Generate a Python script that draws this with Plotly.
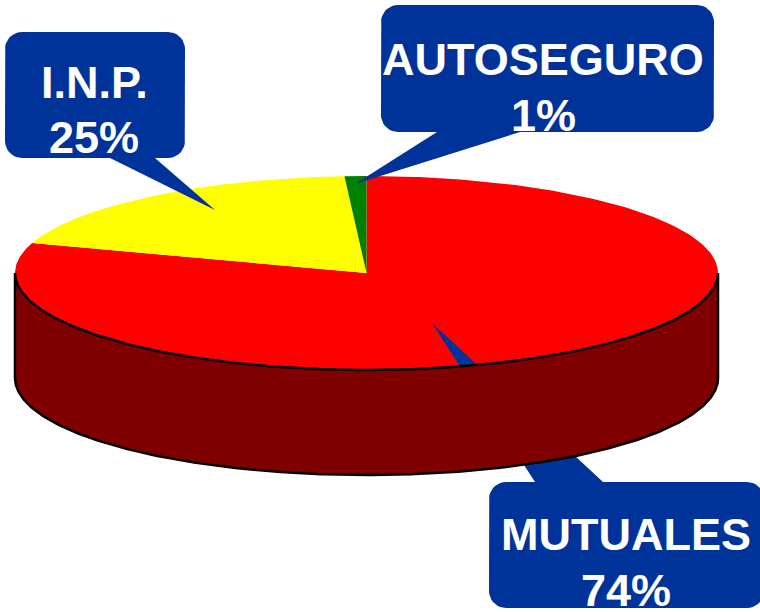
import numpy as np
import plotly.graph_objects as go

# Data
slice_names = ["MUTUALES", "I.N.P.", "AUTOSEGURO"]
slice_values = [80, 19, 1]          # drawn share of the disc
label_values = [74, 25, 1]          # percentages printed in the call-outs
slice_colors = ["#ff0000", "#ffff00", "#008000"]

# Projection of the disc
CX, CY, RX, RY, DEPTH = 366.5, 273, 351.5, 97, 105
BLUE = "#003399"
FONT = "Liberation Sans"
FONT_SIZE = 45


def rim(deg):
    a = np.radians(deg)
    return CX + RX * np.sin(a), CY - RY * np.cos(a)


def rounded_box(x0, y0, x1, y1, r=17):
    xs, ys = [], []
    corners = [(x1 - r, y0 + r, 0), (x1 - r, y1 - r, 90), (x0 + r, y1 - r, 180), (x0 + r, y0 + r, 270)]
    for cx, cy, start in corners:
        t = np.radians(np.linspace(start, start + 90, 10))
        xs += list(cx + r * np.sin(t))
        ys += list(cy - r * np.cos(t))
    return xs + xs[:1], ys + ys[:1]


fig = go.Figure()


def poly(x, y, fill, line_color=None, line_width=0):
    fig.add_trace(go.Scatter(
        x=list(x), y=list(y), mode="lines", fill="toself", fillcolor=fill,
        line=dict(color=line_color or fill, width=line_width),
        hoverinfo="skip", showlegend=False))


# Top face, one wedge per value
edges = np.cumsum([0] + slice_values) / sum(slice_values) * 360
for i, color in enumerate(slice_colors):
    th = np.linspace(edges[i], edges[i + 1], 300)
    ex, ey = rim(th)
    poly([CX, *ex, CX], [CY, *ey, CY], color)

# Call-outs: box, then tail
callouts = [
    dict(i=1, box=(5, 32, 185, 158), tail=[(110, 158), (215, 210), (155, 158)],
         cx=94, y1=82, y2=137),
    dict(i=2, box=(381, 5, 714, 132), tail=[(437, 132), (355, 184), (520, 132)],
         cx=543, y1=59, y2=115),
    dict(i=0, box=(489, 482, 764, 608), tail=[(535, 482), (432, 323), (603, 482)],
         cx=626, y1=534.5, y2=590),
]
for c in callouts:
    bx, by = rounded_box(*c["box"])
    poly(bx, by, BLUE)
    poly([p[0] for p in c["tail"]], [p[1] for p in c["tail"]], BLUE)

# Side wall, drawn last so it hides the lower call-out's tail
th = np.linspace(90, 270, 400)
wx, wy = rim(th)
poly([*wx, *wx[::-1], wx[0]], [*wy, *(wy[::-1] + DEPTH), wy[0]], "#800000", "#000000", 2.5)

annotations = []
for c in callouts:
    for text, y in ((slice_names[c["i"]], c["y1"]), (f'{label_values[c["i"]]}%', c["y2"])):
        annotations.append(dict(
            x=c["cx"], y=y, xref="x", yref="y", text=text, showarrow=False,
            xanchor="center", yanchor="middle",
            font=dict(family=FONT, size=FONT_SIZE, color="white", weight="bold")))

fig.update_layout(
    width=760, height=612, margin=dict(l=0, r=0, t=0, b=0),
    paper_bgcolor="white", plot_bgcolor="white", showlegend=False,
    annotations=annotations,
    xaxis=dict(range=[0, 760], visible=False, fixedrange=True),
    yaxis=dict(range=[612, 0], visible=False, fixedrange=True),
)
fig.write_html("out.html", config={"displayModeBar": False},
               post_script="document.body.style.margin='0';document.documentElement.style.overflow='hidden';")
